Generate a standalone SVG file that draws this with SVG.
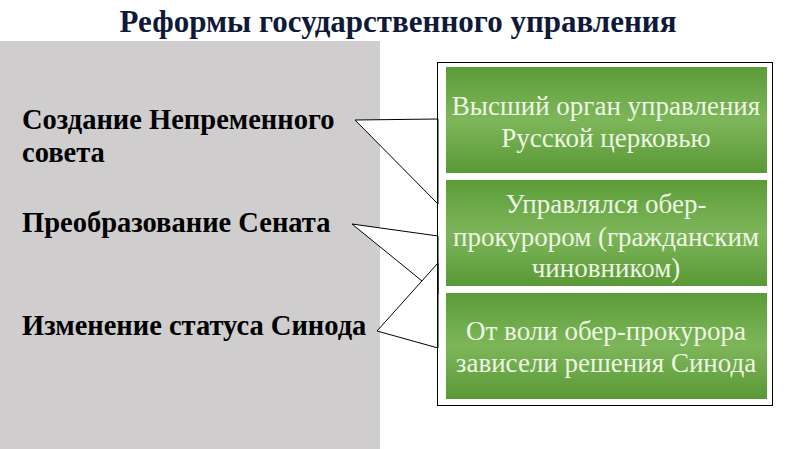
<svg xmlns="http://www.w3.org/2000/svg" width="800" height="449" viewBox="0 0 800 449" font-family="Liberation Serif">
<defs>
<linearGradient id="g" x1="0" y1="0" x2="0" y2="1">
<stop offset="0" stop-color="#5c9c38"/>
<stop offset="0.5" stop-color="#7db65a"/>
<stop offset="1" stop-color="#5a9836"/>
</linearGradient>
</defs>
<style>
.title{font-family:'Liberation Serif',serif;font-weight:bold;font-size:31px;fill:#0f1a3a}
.lt{font-family:'Liberation Serif',serif;font-weight:bold;font-size:28.5px;fill:#000}
.gt{font-family:'Liberation Serif',serif;font-size:27px;fill:#eef6e4;text-anchor:middle}
.gb{fill:url(#g)}
.co{fill:#fff;stroke:#000;stroke-width:1}
</style>
<rect width="800" height="449" fill="#fff"/>
<text class="title" x="398" y="32" text-anchor="middle">Реформы государственного управления</text>
<rect x="0" y="41" width="380" height="408" fill="#cfcdce"/>
<g id="left">
<text class="lt" x="22" y="129">Создание Непременного</text>
<text class="lt" x="22" y="162">совета</text>
<text class="lt" x="22" y="232">Преобразование Сената</text>
<text class="lt" x="22" y="335">Изменение статуса Синода</text>
</g>
<g id="connectors">
<polygon class="co" points="355,120 438,119 438,204"/>
<polygon class="co" points="352,224 438,236 438,294"/>
<polygon class="co" points="377,331 438,263 438,348"/>
</g>
<g id="frame">
<rect x="437.5" y="62.5" width="335" height="343" fill="none" stroke="#000" stroke-width="1"/>
</g>
<g id="box1">
<rect class="gb" x="446" y="67" width="321" height="106"/>
<text class="gt" x="606" y="115">Высший орган управления</text>
<text class="gt" x="606" y="147">Русской церковью</text>
</g>
<g id="box2">
<rect class="gb" x="446" y="180" width="321" height="106"/>
<text class="gt" x="606" y="213">Управлялся обер-</text>
<text class="gt" x="606" y="246">прокурором (гражданским</text>
<text class="gt" x="606" y="277">чиновником)</text>
</g>
<g id="box3">
<rect class="gb" x="446" y="293" width="321" height="106"/>
<text class="gt" x="606" y="340">От воли обер-прокурора</text>
<text class="gt" x="606" y="372">зависели решения Синода</text>
</g>
</svg>
